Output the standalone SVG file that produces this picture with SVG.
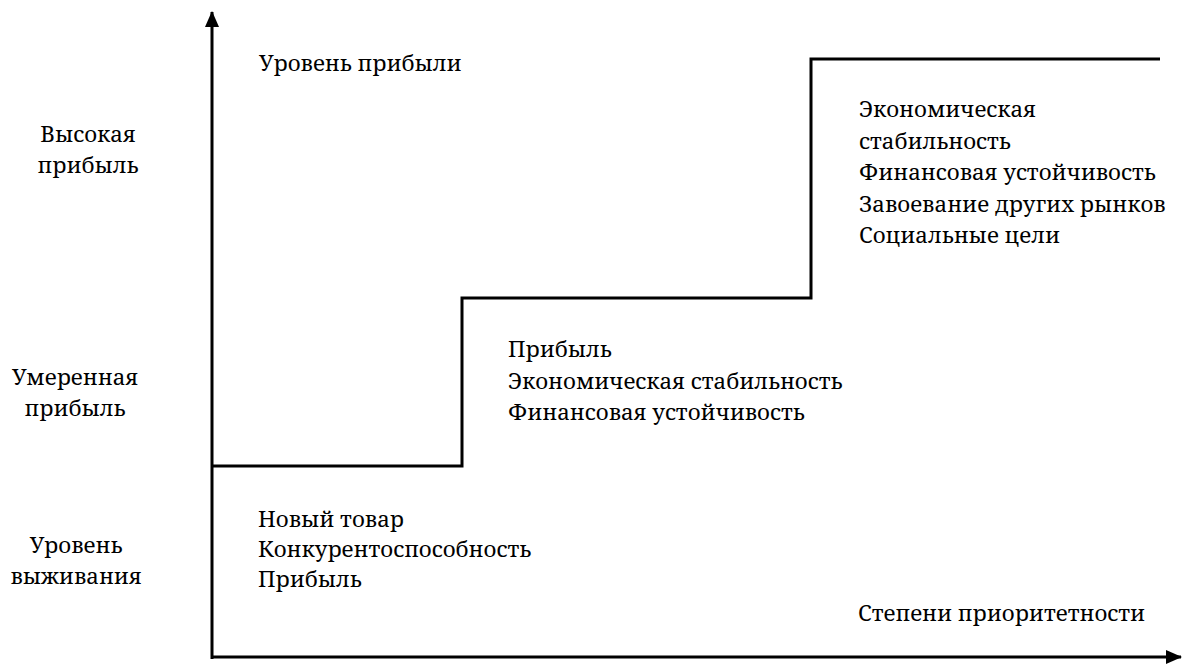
<svg xmlns="http://www.w3.org/2000/svg" width="1185" height="664" viewBox="0 0 1185 664">
<style>
text{font-family:"Noto Serif","DejaVu Serif","Liberation Serif",serif;font-size:22.3px;fill:#000}
.c{text-anchor:middle}
.ln{stroke:#000;stroke-width:3;fill:none}
</style>
<defs>
<marker id="ah" markerWidth="16" markerHeight="14" refX="15" refY="7" orient="auto" markerUnits="userSpaceOnUse">
<path d="M0,0 L16,7 L0,14 Z" fill="#000"/>
</marker>
</defs>
<rect width="1185" height="664" fill="#fff"/>
<g id="connectors">
<line class="ln" x1="212" y1="659" x2="212" y2="12" marker-end="url(#ah)"/>
<line class="ln" x1="212" y1="657" x2="1181" y2="657" marker-end="url(#ah)"/>
<polyline class="ln" points="212,466 462,466 462,298 811,298 811,59 1160,59"/>
</g>
<g id="axis-y-label"><text x="259" y="71">Уровень прибыли</text></g>
<g id="axis-x-label"><text x="858" y="621">Степени приоритетности</text></g>
<g id="level-high"><text class="c" x="88" y="142">Высокая</text><text class="c" x="88" y="173">прибыль</text></g>
<g id="level-moderate"><text class="c" x="75" y="385">Умеренная</text><text class="c" x="75" y="416">прибыль</text></g>
<g id="level-survival"><text class="c" x="76" y="553">Уровень</text><text class="c" x="76" y="584">выживания</text></g>
<g id="step-1"><text x="258" y="527">Новый товар</text><text x="258" y="557">Конкурентоспособность</text><text x="258" y="587">Прибыль</text></g>
<g id="step-2"><text x="508" y="357">Прибыль</text><text x="508" y="389">Экономическая стабильность</text><text x="508" y="420">Финансовая устойчивость</text></g>
<g id="step-3"><text x="859" y="117">Экономическая</text><text x="859" y="149">стабильность</text><text x="859" y="180">Финансовая устойчивость</text><text x="859" y="212">Завоевание других рынков</text><text x="859" y="243">Социальные цели</text></g>
</svg>
